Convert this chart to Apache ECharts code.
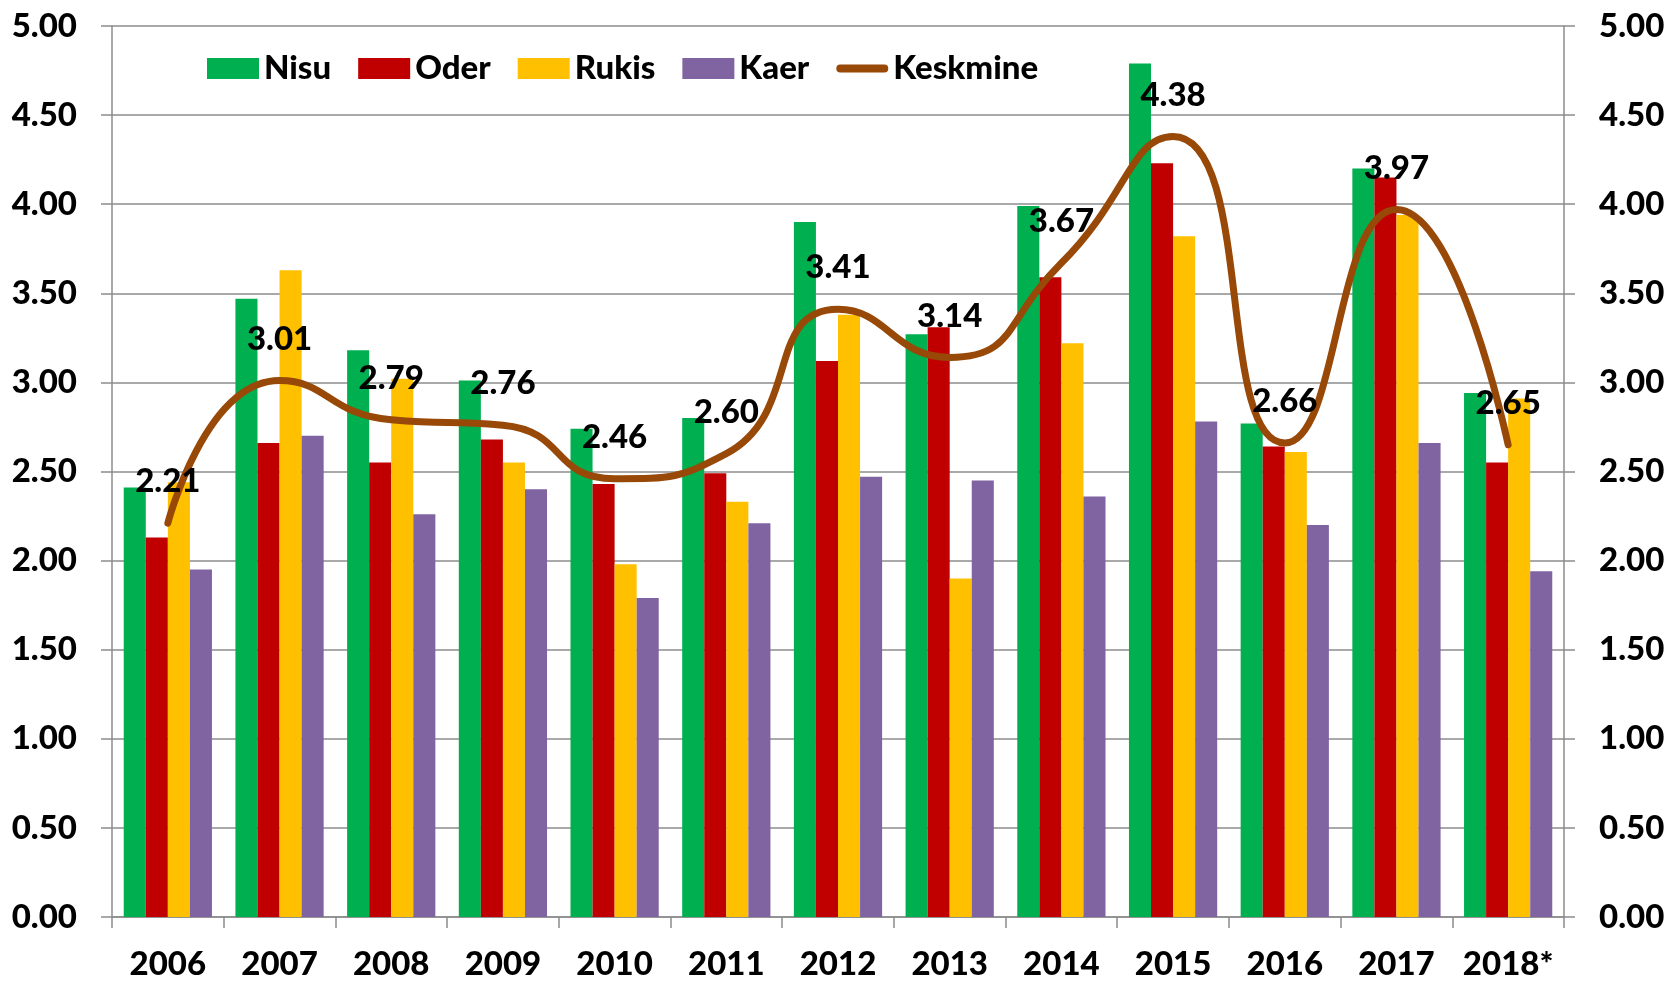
<!DOCTYPE html>
<html>
<head>
<meta charset="utf-8">
<script src="https://cdn.jsdelivr.net/npm/echarts@6/dist/echarts.min.js"></script>
<style>
html, body { margin: 0; padding: 0; background: #fff; }
#chart { width: 1672px; height: 981px; }
</style>
</head>
<body>
<div id="chart"></div>
<script>
var years = ['2006', '2007', '2008', '2009', '2010', '2011', '2012', '2013', '2014', '2015', '2016', '2017', '2018*'];
var nisu = [2.41, 3.47, 3.18, 3.01, 2.74, 2.80, 3.90, 3.27, 3.99, 4.79, 2.77, 4.20, 2.94];
var oder = [2.13, 2.66, 2.55, 2.68, 2.43, 2.49, 3.12, 3.31, 3.59, 4.23, 2.64, 4.15, 2.55];
var rukis = [2.44, 3.63, 3.02, 2.55, 1.98, 2.33, 3.38, 1.90, 3.22, 3.82, 2.61, 3.94, 2.91];
var kaer = [1.95, 2.70, 2.26, 2.40, 1.79, 2.21, 2.47, 2.45, 2.36, 2.78, 2.20, 2.66, 1.94];
var keskmine = [2.21, 3.01, 2.79, 2.76, 2.46, 2.60, 3.41, 3.14, 3.67, 4.38, 2.66, 3.97, 2.65];

var font = 'Lato';
var weight = 900;
var axisGray = '#8c8c8c';
var brown = '#984807';
// thin rounded bar for the line's legend icon (bbox 52x21, bar in the middle)
var lineIcon = 'path://M0,0 Z M52,21 Z M4,6.5 L48,6.5 A4,4 0 0 1 48,14.5 L4,14.5 A4,4 0 0 1 4,6.5 Z';

var chart = echarts.init(document.getElementById('chart'));

function barSeries(name, values, color) {
	return {
		name: name,
		type: 'bar',
		data: values,
		barGap: '0%',
		barCategoryGap: '21%',
		itemStyle: { color: color },
		z: 2
	};
}

function valueAxis(pos) {
	return {
		type: 'value',
		position: pos,
		min: 0,
		max: 5,
		interval: 0.5,
		axisLine: { show: true, lineStyle: { color: axisGray, width: 1.5 } },
		axisTick: { show: true, length: 11, lineStyle: { color: axisGray, width: 1.5 } },
		splitLine: { show: pos == 'left', lineStyle: { color: axisGray, width: 1.5 } },
		axisLabel: {
			margin: 35,
			color: '#000',
			fontFamily: font,
			fontWeight: weight,
			fontSize: 33,
			formatter: function (v) { return v.toFixed(2); }
		}
	};
}

chart.setOption({
	animation: false,
	backgroundColor: '#fff',
	grid: { left: 112, right: 108, top: 26, bottom: 64 },
	legend: {
		left: 202,
		top: 47,
		itemWidth: 52,
		itemHeight: 21,
		itemGap: 27,
		textStyle: { color: '#000', fontFamily: font, fontWeight: weight, fontSize: 33 },
		data: [
			{ name: 'Nisu', icon: 'rect' },
			{ name: 'Oder', icon: 'rect' },
			{ name: 'Rukis', icon: 'rect' },
			{ name: 'Kaer', icon: 'rect' },
			{ name: 'Keskmine', icon: lineIcon, itemStyle: { color: brown } }
		]
	},
	xAxis: {
		type: 'category',
		data: years,
		axisLine: { lineStyle: { color: axisGray, width: 1.5 } },
		axisTick: { show: true, length: 11, lineStyle: { color: axisGray, width: 1.5 } },
		axisLabel: {
			interval: 0,
			margin: 31,
			color: '#000',
			fontFamily: font,
			fontWeight: weight,
			fontSize: 33
		}
	},
	yAxis: [valueAxis('left'), valueAxis('right')],
	series: [
		barSeries('Nisu', nisu, '#00B050'),
		barSeries('Oder', oder, '#C00000'),
		barSeries('Rukis', rukis, '#FFC000'),
		barSeries('Kaer', kaer, '#8064A2'),
		{
			name: 'Keskmine',
			type: 'line',
			yAxisIndex: 1,
			data: keskmine,
			smooth: 0.55,
			smoothConstraint: false,
			symbol: 'circle',
			symbolSize: 0,
			showSymbol: true,
			lineStyle: { color: brown, width: 7, cap: 'round' },
			itemStyle: { color: brown },
			z: 5,
			label: {
				show: true,
				position: 'top',
				distance: 25,
				color: '#000',
				fontFamily: font,
				fontWeight: weight,
				fontSize: 33,
				formatter: function (p) { return p.value.toFixed(2); }
			}
		}
	]
});
</script>
</body>
</html>
